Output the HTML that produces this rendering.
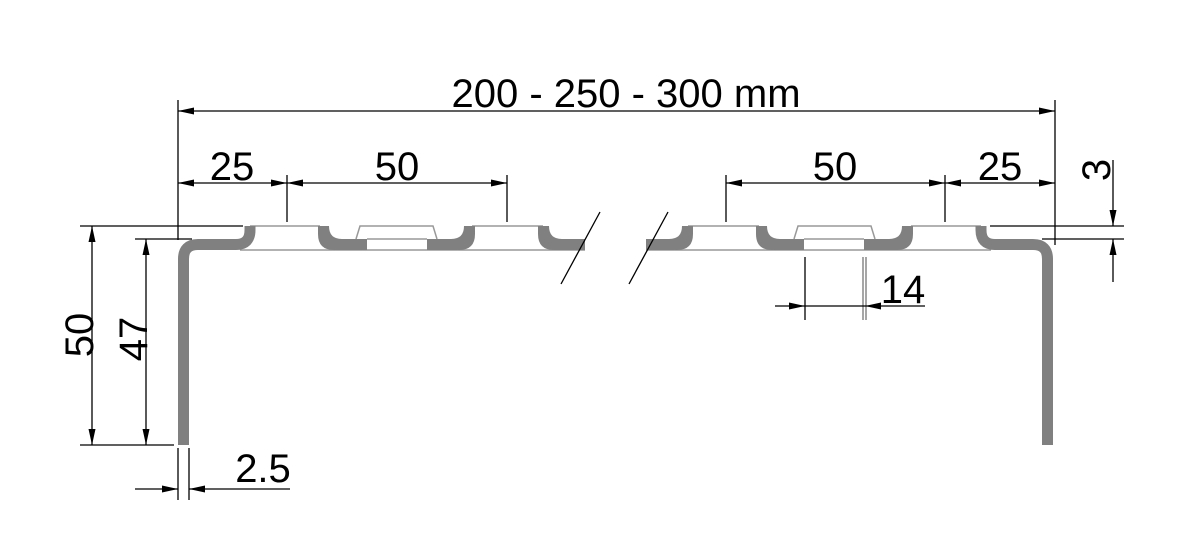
<!DOCTYPE html>
<html><head><meta charset="utf-8"><style>html,body{margin:0;padding:0;background:#fff}svg{display:block}</style></head>
<body>
<svg width="1200" height="560" viewBox="0 0 1200 560" xmlns="http://www.w3.org/2000/svg" font-family="Liberation Sans, sans-serif">
<defs>
<marker id="a" viewBox="0 0 16 7" refX="16" refY="3.5" markerWidth="16" markerHeight="7" orient="auto-start-reverse" markerUnits="userSpaceOnUse"><path d="M0,0 L16,3.5 L0,7 z" fill="#000"/></marker>
<g id="half">
  <line x1="240" y1="250" x2="585" y2="250" stroke="#999" stroke-width="1.5"/>
  <line x1="250" y1="226" x2="320" y2="226" stroke="#999" stroke-width="1.5"/>
  <line x1="472" y1="226" x2="543" y2="226" stroke="#999" stroke-width="1.5"/>
  <path d="M183.5,445 V259 Q183.5,244.5 198,244.5 H236 Q250,244.5 250,230 V226" fill="none" stroke="#808080" stroke-width="11"/>
  <path d="M318,226 H329 Q329,239 342,239 H367 V250 H334 Q318,250 318,234 Z" fill="#808080"/>
  <path d="M475,226 H464 Q464,239 451,239 H427 V250 H459 Q475,250 475,234 Z" fill="#808080"/>
  <path d="M356,239 L360,226 H433 L437,239" fill="none" stroke="#999" stroke-width="1.5"/>
  <line x1="367" y1="239" x2="427" y2="239" stroke="#999" stroke-width="1.5"/>
  <path d="M538,226 H549 Q549,239 562,239 H585 V250 H554 Q538,250 538,234 Z" fill="#808080"/>
</g>
</defs>
<use href="#half"/>
<use href="#half" transform="translate(1231,0) scale(-1,1)"/>
<g stroke="#000" stroke-width="1.3" fill="none">
  <line x1="600" y1="212" x2="561" y2="284"/>
  <line x1="668" y1="212" x2="629" y2="284"/>
  <line x1="178" y1="100" x2="178" y2="240"/>
  <line x1="1055" y1="100" x2="1055" y2="245"/>
  <line x1="178" y1="111" x2="1055" y2="111" marker-start="url(#a)" marker-end="url(#a)"/>
  <line x1="287" y1="175" x2="287" y2="222"/>
  <line x1="507" y1="175" x2="507" y2="222"/>
  <line x1="726" y1="175" x2="726" y2="222"/>
  <line x1="945" y1="175" x2="945" y2="222"/>
  <line x1="178" y1="183" x2="287" y2="183" marker-start="url(#a)" marker-end="url(#a)"/>
  <line x1="287" y1="183" x2="507" y2="183" marker-start="url(#a)" marker-end="url(#a)"/>
  <line x1="726" y1="183" x2="945" y2="183" marker-start="url(#a)" marker-end="url(#a)"/>
  <line x1="945" y1="183" x2="1055" y2="183" marker-start="url(#a)" marker-end="url(#a)"/>
  <line x1="80" y1="226" x2="243" y2="226"/>
  <line x1="135" y1="239" x2="192" y2="239"/>
  <line x1="80" y1="445" x2="174" y2="445"/>
  <line x1="92" y1="226" x2="92" y2="445" marker-start="url(#a)" marker-end="url(#a)"/>
  <line x1="146" y1="239" x2="146" y2="445" marker-start="url(#a)" marker-end="url(#a)"/>
  <line x1="178" y1="448" x2="178" y2="500"/>
  <line x1="189" y1="448" x2="189" y2="500"/>
  <line x1="135" y1="489" x2="178" y2="489" marker-end="url(#a)"/>
  <line x1="290" y1="489" x2="189" y2="489" marker-end="url(#a)"/>
  <line x1="805" y1="257" x2="805" y2="320"/>
  <line x1="863" y1="257" x2="863" y2="320" stroke="#777"/>
  <line x1="866" y1="257" x2="866" y2="320" stroke="#777"/>
  <line x1="775" y1="306" x2="805" y2="306" marker-end="url(#a)"/>
  <line x1="925" y1="306" x2="865" y2="306" marker-end="url(#a)"/>
  <line x1="805" y1="306" x2="865" y2="306"/>
  <line x1="990" y1="226" x2="1124" y2="226"/>
  <line x1="1042" y1="239" x2="1124" y2="239"/>
  <line x1="1113" y1="160" x2="1113" y2="226" marker-end="url(#a)"/>
  <line x1="1113" y1="282" x2="1113" y2="239" marker-end="url(#a)"/>
</g>
<g fill="#000" font-size="40" text-anchor="middle">
  <text x="626" y="107">200 - 250 - 300 mm</text>
  <text x="232" y="180">25</text>
  <text x="397" y="180">50</text>
  <text x="835" y="180">50</text>
  <text x="1000" y="180">25</text>
  <text x="903" y="303">14</text>
  <text x="263" y="482">2.5</text>
  <text transform="translate(93,335) rotate(-90)">50</text>
  <text transform="translate(147,339) rotate(-90)">47</text>
  <text transform="translate(1110,170) rotate(-90)">3</text>
</g>
</svg>
</body></html>
